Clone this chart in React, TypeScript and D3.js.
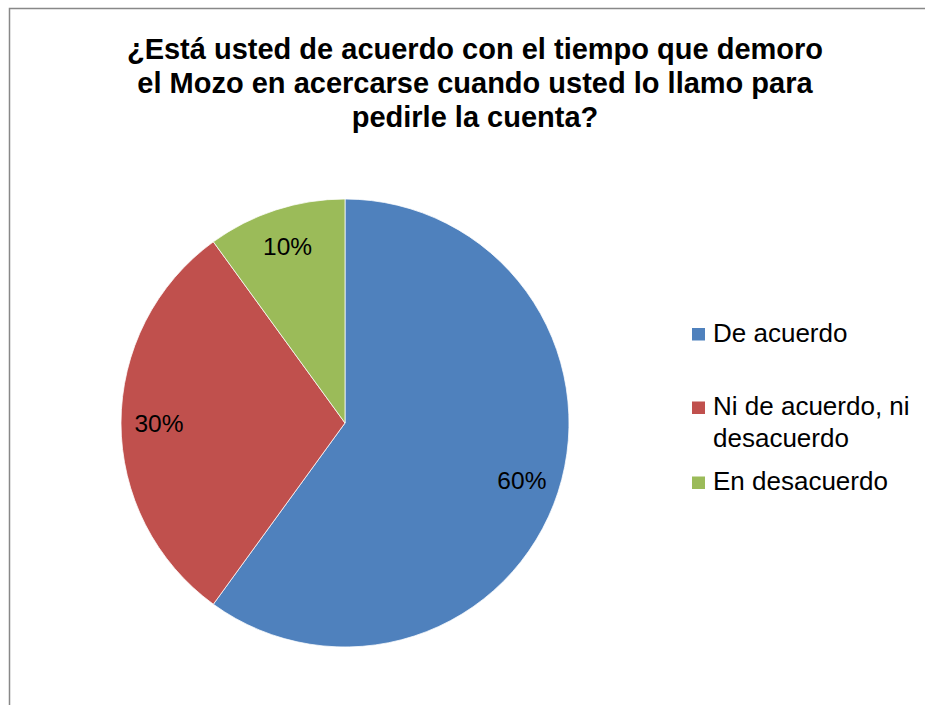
import React from "react";
import * as d3 from "d3";

const categories = ["De acuerdo", "Ni de acuerdo, ni desacuerdo", "En desacuerdo"];
const values = [60, 30, 10];
const colors = ["#4F81BD", "#C0504D", "#9BBB59"];
const legendLines = [["De acuerdo"], ["Ni de acuerdo, ni", "desacuerdo"], ["En desacuerdo"]];
const titleLines = [
  "¿Está usted de acuerdo con el tiempo que demoro",
  "el Mozo en acercarse cuando usted lo llamo para",
  "pedirle la cuenta?",
];

export default function App() {
  const W = 925, H = 705;
  const cx = 345, cy = 423, r = 224;
  const pie = d3.pie<number>().sort(null).value((d) => d);
  const arcs = pie(values);
  const arc = d3.arc<d3.PieArcDatum<number>>().innerRadius(0).outerRadius(r);
  const labelArc = d3.arc<d3.PieArcDatum<number>>().innerRadius(186).outerRadius(186);
  const font = "Liberation Sans, Arial, sans-serif";
  const legendY = [341.5, 415, 490];
  return (
    <svg width={W} height={H} style={{ position: "absolute", left: 0, top: 0 }}>
      <rect x={0} y={0} width={W} height={H} fill="#fff" />
      <rect x={9.5} y={8.5} width={W + 10} height={H + 10} fill="none" stroke="#888" strokeWidth={1.5} />
      {titleLines.map((t, i) => (
        <text key={i} x={475} y={59 + i * 34} textAnchor="middle" fontFamily={font} fontWeight="bold" fontSize={29} fill="#000">
          {t}
        </text>
      ))}
      <g transform={`translate(${cx},${cy})`}>
        {arcs.map((a, i) => (
          <path key={i} d={arc(a) || ""} fill={colors[i]} stroke="#fff" strokeWidth={0.75} />
        ))}
        {arcs.map((a, i) => {
          const [x, y] = labelArc.centroid(a);
          return (
            <text key={i} x={x} y={y} dy="0.35em" textAnchor="middle" fontFamily={font} fontSize={24.5} fill="#000">
              {values[i]}%
            </text>
          );
        })}
      </g>
      {categories.map((c, i) => (
        <g key={c}>
          <rect x={692} y={legendY[i] - 13.5} width={13} height={12.5} fill={colors[i]} />
          {legendLines[i].map((l, j) => (
            <text key={j} x={713} y={legendY[i] + j * 31.5} fontFamily={font} fontSize={26} fill="#000">
              {l}
            </text>
          ))}
        </g>
      ))}
    </svg>
  );
}
